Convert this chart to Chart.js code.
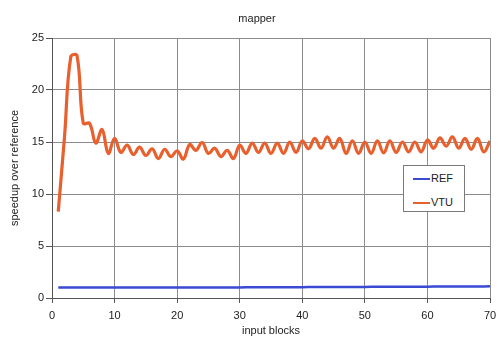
<!DOCTYPE html>
<html>
<head>
<meta charset="utf-8">
<title>mapper</title>
<script src="https://cdn.jsdelivr.net/npm/chart.js@4/dist/chart.umd.min.js"></script>
<style>
  html, body { margin: 0; padding: 0; background: #fff; }
  .wrap { position: relative; width: 498px; height: 349px; }
  #speedupCanvas { display: block; }
  .legend-box {
    position: absolute;
    left: 403px; top: 165px;
    width: 60px; height: 45px;
    border: 1px solid #7a7a7a;
    background: #fff;
    font: 11px "Liberation Sans", Arial, sans-serif;
    color: #222;
  }
  .legend-item { position: absolute; left: 9px; height: 12px; line-height: 12px; white-space: nowrap; }
  .legend-item .swatch { display: inline-block; width: 17px; height: 2px; vertical-align: middle; margin-right: 1px; }
</style>
</head>
<body>
<div class="wrap">
  <canvas id="speedupCanvas" width="498" height="349"></canvas>
  <div class="legend-box" id="legendBox"></div>
</div>
<script>
(function () {
  'use strict';

  // input blocks 1..70
  const blocks = Array.from({ length: 70 }, (_, i) => i + 1);

  const refSpeedup = [
    1.0, 1.0, 1.0, 1.0, 1.0, 1.0, 1.0, 1.0, 1.0, 1.0,
    1.0, 1.0, 1.0, 1.0, 1.0, 1.0, 1.0, 1.0, 1.0, 1.0,
    1.02, 1.02, 1.02, 1.02, 1.02, 1.02, 1.02, 1.02, 1.02, 1.02,
    1.04, 1.04, 1.04, 1.04, 1.04, 1.04, 1.04, 1.04, 1.04, 1.04,
    1.06, 1.06, 1.06, 1.06, 1.06, 1.06, 1.06, 1.06, 1.06, 1.06,
    1.08, 1.08, 1.08, 1.08, 1.08, 1.08, 1.08, 1.08, 1.08, 1.08,
    1.1, 1.1, 1.1, 1.1, 1.1, 1.1, 1.1, 1.1, 1.1, 1.12
  ];

  const vtuSpeedup = [
    8.3, 15.5, 23.2, 23.3, 16.8, 16.8, 14.9, 16.2, 13.9, 15.35,
    14.0, 14.7, 13.8, 14.5, 13.7, 14.35, 13.4, 14.3, 13.6, 14.15,
    13.35, 14.75, 14.2, 14.95, 13.9, 14.4, 13.6, 14.2, 13.4, 14.7,
    13.9, 14.9, 14.0, 14.9, 13.9, 14.9, 13.9, 15.0, 14.0, 15.1,
    14.35, 15.35, 14.4, 15.5, 14.4, 15.35, 13.9, 15.1, 13.9, 15.0,
    13.9, 15.1, 13.95, 15.1, 14.0, 15.0, 14.05, 15.0, 14.05, 15.2,
    14.4, 15.4, 14.6, 15.5, 14.4, 15.35, 14.3, 15.35, 14.05, 15.1
  ];

  const xTicks = [0, 10, 20, 30, 40, 50, 60, 70];
  const yTicks = [0, 5, 10, 15, 20, 25];

  const FONT = '"Liberation Sans", Arial, Helvetica, sans-serif';
  const GRID = '#8c8c8c';

  const toPoints = vals => vals.map((v, i) => ({ x: blocks[i], y: v }));

  // nudge the title a little to the right of the canvas centre
  const titleOffset = {
    id: 'titleOffset',
    afterLayout(chart) {
      if (chart.titleBlock) chart.titleBlock.left += 24;
    }
  };

  const chart = new Chart(document.getElementById('speedupCanvas'), {
    type: 'line',
    data: {
      datasets: [
        {
          label: 'REF',
          data: toPoints(refSpeedup),
          borderColor: '#3a4ad4',
          borderWidth: 2.5,
          pointRadius: 0,
          tension: 0
        },
        {
          label: 'VTU',
          data: toPoints(vtuSpeedup),
          borderColor: '#e8602e',
          borderWidth: 3.2,
          pointRadius: 0,
          tension: 0.4
        }
      ]
    },
    options: {
      responsive: false,
      animation: false,
      layout: { padding: { left: 0, right: 8, top: 0, bottom: 0 } },
      plugins: {
        legend: { display: false },
        tooltip: { enabled: false },
        title: {
          display: true,
          text: 'mapper',
          color: '#222',
          font: { family: FONT, size: 11, weight: 'normal' },
          padding: { top: 12, bottom: 12.8 }
        }
      },
      scales: {
        x: {
          type: 'linear',
          min: 0, max: 70,
          afterBuildTicks: s => { s.ticks = xTicks.map(v => ({ value: v })); },
          afterFit: s => { s.height = 51; s.paddingLeft = 0; s.paddingRight = 0; },
          grid: { color: GRID, lineWidth: 1, tickLength: 5, tickColor: '#555' },
          border: { color: '#555', width: 1 },
          ticks: { color: '#222', font: { family: FONT, size: 11 }, padding: 6, maxRotation: 0 },
          title: {
            display: true, text: 'input blocks', color: '#222',
            font: { family: FONT, size: 11 }, padding: { top: 1, bottom: 11 }
          }
        },
        y: {
          min: 0, max: 25,
          afterBuildTicks: s => { s.ticks = yTicks.map(v => ({ value: v })); },
          afterFit: s => { s.width = 52; s.paddingTop = 0; s.paddingBottom = 0; },
          grid: { color: GRID, lineWidth: 1, tickLength: 6, tickColor: '#555' },
          border: { color: '#555', width: 1 },
          ticks: { color: '#222', font: { family: FONT, size: 11 }, padding: 2 },
          title: {
            display: true, text: 'speedup over reference', color: '#222',
            font: { family: FONT, size: 11 }, padding: { top: 8, bottom: 2 }
          }
        }
      }
    },
    plugins: [titleOffset]
  });

  // legend box built from the datasets
  const legendBox = document.getElementById('legendBox');
  chart.data.datasets.forEach((ds, i) => {
    const item = document.createElement('div');
    item.className = 'legend-item';
    item.style.top = (6 + i * 24) + 'px';
    const sw = document.createElement('span');
    sw.className = 'swatch';
    sw.style.background = ds.borderColor;
    item.appendChild(sw);
    item.appendChild(document.createTextNode(ds.label));
    legendBox.appendChild(item);
  });
})();
</script>
</body>
</html>
